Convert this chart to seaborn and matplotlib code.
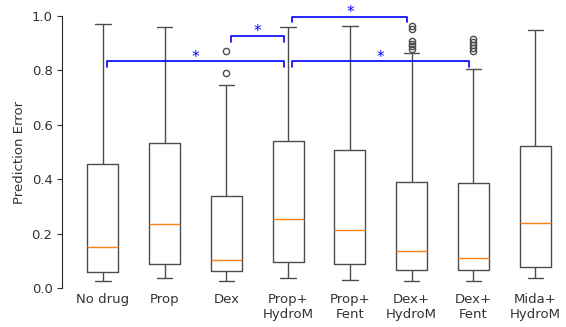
import numpy as np
import pandas as pd
import matplotlib
matplotlib.use('Agg')
import matplotlib.pyplot as plt
import seaborn as sns

# groups and box statistics
groups = ['No drug', 'Prop', 'Dex', 'Prop+\nHydroM', 'Prop+\nFent',
          'Dex+\nHydroM', 'Dex+\nFent', 'Mida+\nHydroM']
lows = [0.027, 0.036, 0.027, 0.036, 0.029, 0.027, 0.027, 0.038]
q1s = [0.060, 0.087, 0.063, 0.097, 0.087, 0.066, 0.066, 0.078]
medians = [0.151, 0.234, 0.103, 0.252, 0.213, 0.136, 0.112, 0.238]
q3s = [0.457, 0.532, 0.338, 0.540, 0.506, 0.388, 0.385, 0.522]
highs = [0.969, 0.958, 0.746, 0.958, 0.962, 0.865, 0.806, 0.949]
fliers = [[], [], [0.790, 0.870], [], [],
          [0.962, 0.951, 0.908, 0.898, 0.889, 0.879],
          [0.917, 0.905, 0.893, 0.881, 0.870], []]

# significance brackets: (group a, group b, bar height)
sig_pairs = [(0, 3, 0.833), (2, 3, 0.926), (3, 5, 0.998), (3, 6, 0.833)]

# rebuild a sample per group that gives exactly those stats
rows = []
for g, lo, a, m, b, hi, fl in zip(groups, lows, q1s, medians, q3s, highs, fliers):
    k = len(fl) + 1
    vals = [lo] + [a] * k + [m] * k + [b] * k + [hi] + fl
    rows += [(g, v) for v in vals]
df = pd.DataFrame(rows, columns=['group', 'err'])

sns.set_style('ticks')
plt.rcParams['font.family'] = ['DejaVu Sans']
plt.rcParams['font.size'] = 9.5
plt.rcParams['text.color'] = '0.2'
plt.rcParams['axes.labelcolor'] = '0.2'
plt.rcParams['xtick.color'] = '0.2'
plt.rcParams['ytick.color'] = '0.2'

fig = plt.figure(figsize=(5.66, 3.27), dpi=100)
ax = fig.add_axes([0.1272, 0.1193, 0.873, 0.8318])

lc = '0.3'
sns.boxplot(data=df, x='group', y='err', order=groups, ax=ax, width=0.5,
            fill=False, color=lc, linewidth=1.0,
            medianprops={'color': '#ff7f0e', 'linewidth': 1.0},
            flierprops={'marker': 'o', 'markersize': 4.5,
                        'markerfacecolor': 'none', 'markeredgecolor': lc,
                        'markeredgewidth': 1.0})

for i, j, y in sig_pairs:
    x1, x2 = i + 0.07, j - 0.07
    ax.plot([x1, x1, x2, x2], [y - 0.02, y, y, y - 0.02], color='blue',
            lw=1.2, clip_on=False)
    ax.text((i + j) / 2, y + 0.016, '*', color='blue', ha='center',
            va='center', fontsize=11)

ax.set_xlim(-0.5, 7.5)
ax.set_ylim(0, 1)
ax.set_yticks([0, 0.2, 0.4, 0.6, 0.8, 1.0])
ax.set_ylabel('Prediction Error')
ax.set_xlabel('')
ax.tick_params(axis='x', length=0)
sns.despine(ax=ax, bottom=True, offset={'left': 7})

fig.savefig('out.png', dpi=100)
